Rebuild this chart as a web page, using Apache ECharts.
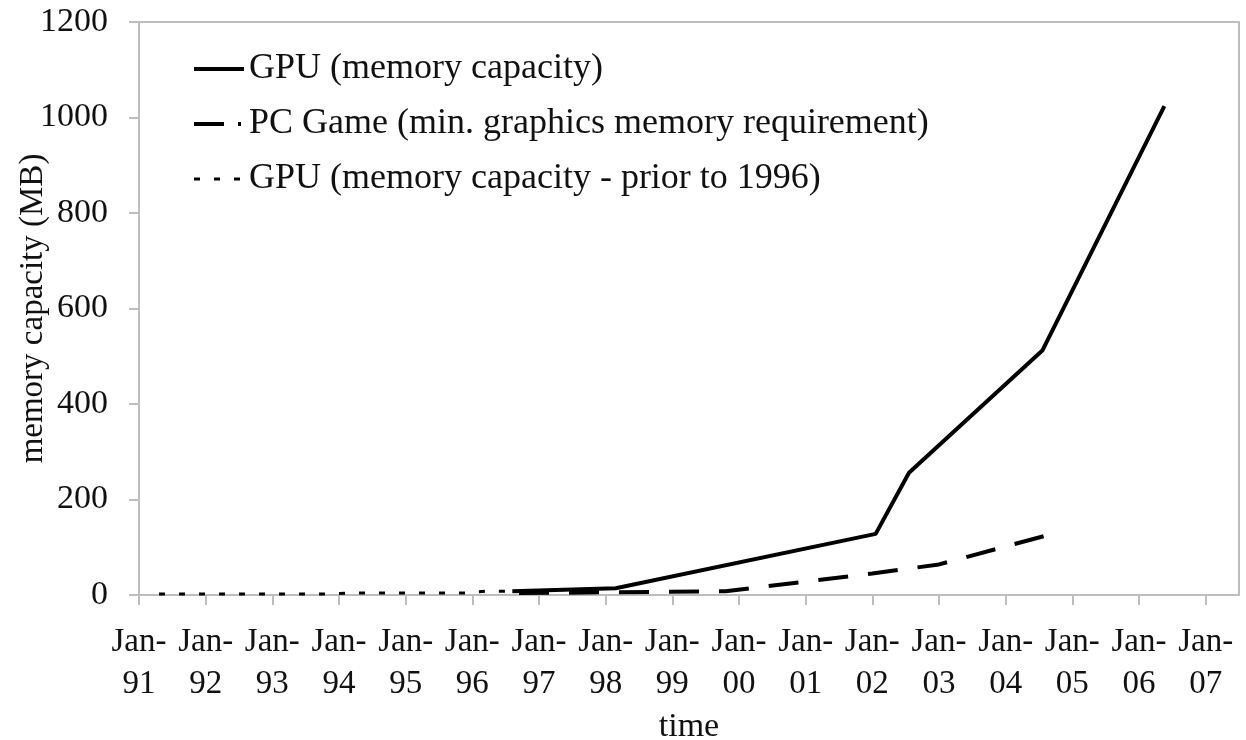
<!DOCTYPE html>
<html>
<head>
<meta charset="utf-8">
<script src="https://cdn.jsdelivr.net/npm/echarts@6/dist/echarts.min.js"></script>
<style>
html, body { margin: 0; padding: 0; background: #fff; }
#main { width: 1246px; height: 740px; }
</style>
</head>
<body>
<div id="main"></div>
<script>
// x values are decimal years (Jan-91 = 1991)
var years = [1991, 1992, 1993, 1994, 1995, 1996, 1997, 1998, 1999, 2000, 2001, 2002, 2003, 2004, 2005, 2006, 2007];
var gpuMem = [[1996.6, 8], [1998.15, 14], [2002.05, 128], [2002.55, 256], [2004.55, 512], [2006.38, 1024]];
var gameMem = [[1996.7, 4], [1999.8, 8], [2002.0, 45], [2003.0, 64], [2004.7, 128]];
var gpuEarly = [[1991.3, 2], [1993.8, 2], [1994.2, 4], [1995.9, 4], [1996.2, 8], [1996.6, 8]];
var yTicks = [0, 200, 400, 600, 800, 1000, 1200];

var seriesNames = [
    'GPU (memory capacity)',
    'PC Game (min. graphics memory requirement)',
    'GPU (memory capacity - prior to 1996)'
];

var font = '"Liberation Serif", "Times New Roman", serif';
var axisGray = '#bdbdbd';

var myChart = echarts.init(document.getElementById('main'));

var option = {
    animation: false,
    backgroundColor: '#fff',
    textStyle: { fontFamily: font, color: '#111' },
    grid: {
        left: 139,
        right: 7,
        top: 22,
        bottom: 145,
        containLabel: false,
        outerBoundsMode: 'none',
        show: true,
        borderColor: axisGray,
        borderWidth: 2
    },
    legend: {
        orient: 'vertical',
        left: 187,
        top: 46,
        itemWidth: 50,
        itemHeight: 2,
        itemGap: 19,
        itemStyle: { opacity: 0 },
        data: [
            { name: seriesNames[0], lineStyle: { width: 4 } },
            { name: seriesNames[1], lineStyle: { width: 4, type: [30, 14, 3, 10] } },
            { name: seriesNames[2], lineStyle: { width: 3 } }
        ],
        textStyle: { fontFamily: font, fontSize: 36, color: '#111', lineHeight: 36 }
    },
    xAxis: {
        type: 'value',
        min: 1991,
        max: 2007.5,
        interval: 1,
        name: 'time',
        nameLocation: 'middle',
        nameGap: 97,
        nameTextStyle: { fontFamily: font, fontSize: 34, color: '#111' },
        splitLine: { show: false },
        axisLine: { lineStyle: { color: axisGray, width: 2 } },
        axisTick: { length: 10, customValues: years, lineStyle: { color: axisGray, width: 2 } },
        axisLabel: {
            customValues: years,
            margin: 26,
            fontFamily: font,
            fontSize: 33,
            lineHeight: 42,
            color: '#111',
            formatter: function (v) {
                var yy = Math.round(v) % 100;
                return 'Jan-\n' + (yy < 10 ? '0' + yy : '' + yy);
            }
        }
    },
    yAxis: {
        type: 'value',
        min: 0,
        max: 1200,
        interval: 200,
        name: 'memory capacity (MB)',
        nameLocation: 'middle',
        nameGap: 89,
        nameMoveOverlap: false,
        nameTextStyle: { fontFamily: font, fontSize: 33, color: '#111' },
        splitLine: { show: false },
        axisLine: { show: true, lineStyle: { color: axisGray, width: 2 } },
        axisTick: { show: true, length: 10, lineStyle: { color: axisGray, width: 2 } },
        axisLabel: {
            customValues: yTicks,
            margin: 31,
            fontFamily: font,
            fontSize: 34,
            color: '#111',
            formatter: function (v) { return String(v); }
        }
    },
    series: [
        {
            name: seriesNames[0],
            type: 'line',
            data: gpuMem,
            symbol: 'none',
            lineStyle: { color: '#000', width: 4, type: 'solid' },
            itemStyle: { color: '#000' },
            z: 3
        },
        {
            name: seriesNames[1],
            type: 'line',
            data: gameMem,
            symbol: 'none',
            lineStyle: { color: '#000', width: 4, type: [30, 20] },
            itemStyle: { color: '#000' },
            z: 2
        },
        {
            name: seriesNames[2],
            type: 'line',
            data: gpuEarly,
            symbol: 'none',
            lineStyle: { color: '#000', width: 3, type: [6, 14] },
            itemStyle: { color: '#000' },
            z: 2
        }
    ]
};

myChart.setOption(option);
</script>
</body>
</html>
